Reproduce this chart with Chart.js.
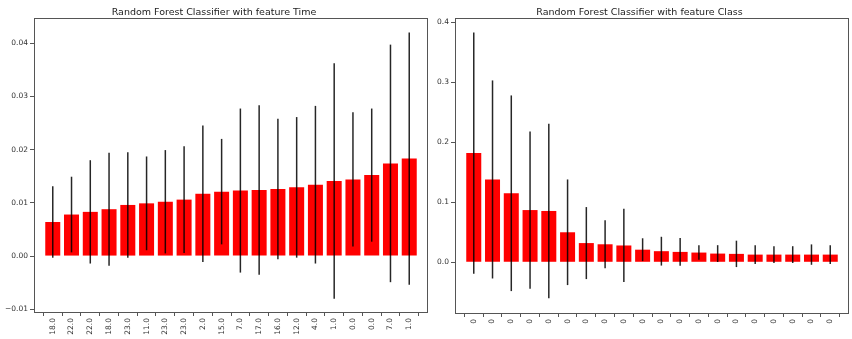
<!DOCTYPE html>
<html>
<head>
<meta charset="utf-8">
<script src="https://cdn.jsdelivr.net/npm/chart.js@4.4.1/dist/chart.umd.min.js"></script>
<style>
    body { margin: 0; background: #fff; }
    .wrap { position: absolute; top: 0; height: 339px; }
    #leftWrap { left: 0; width: 430px; }
    #rightWrap { left: 430px; width: 422px; }
</style>
</head>
<body>
<div class="wrap" id="leftWrap"><canvas id="timeChart"></canvas></div>
<div class="wrap" id="rightWrap"><canvas id="classChart"></canvas></div>
<script>
// Left plot: feature Time
const timeLabels = ['18.0', '22.0', '22.0', '18.0', '23.0', '11.0', '23.0', '23.0', '2.0', '15.0',
    '7.0', '17.0', '16.0', '12.0', '4.0', '1.0', '0.0', '0.0', '7.0', '1.0'];
const timeValues = [0.0064, 0.0078, 0.0083, 0.0088, 0.0096, 0.0099, 0.0102, 0.0106, 0.0117, 0.0121,
    0.0123, 0.0124, 0.0126, 0.0129, 0.0134, 0.0141, 0.0144, 0.0152, 0.0174, 0.0183];
const timeStd = [0.0067, 0.0071, 0.0097, 0.0106, 0.0099, 0.0088, 0.0097, 0.0100, 0.0128, 0.0099,
    0.0154, 0.0159, 0.0132, 0.0132, 0.0148, 0.0221, 0.0126, 0.0125, 0.0223, 0.0237];
const timeTicks = [-0.01, 0.00, 0.01, 0.02, 0.03, 0.04];

// Right plot: feature Class
const classLabels = ['0', '0', '0', '0', '0', '0', '0', '0', '0', '0',
    '0', '0', '0', '0', '0', '0', '0', '0', '0', '0'];
const classValues = [0.182, 0.138, 0.115, 0.087, 0.0855, 0.050, 0.032, 0.030, 0.028, 0.021,
    0.0185, 0.0173, 0.0162, 0.0145, 0.014, 0.0128, 0.0128, 0.0128, 0.0128, 0.0128];
const classStd = [0.201, 0.165, 0.163, 0.131, 0.1455, 0.088, 0.060, 0.040, 0.061, 0.019,
    0.024, 0.023, 0.012, 0.014, 0.022, 0.0157, 0.014, 0.014, 0.017, 0.0157];
const classTicks = [0.0, 0.1, 0.2, 0.3, 0.4];

const tickFont = { family: 'DejaVu Sans', size: 7.5 };
const textColor = '#333';

// draws the error bars and the four spines
const errorBarPlugin = {
    id: 'errorBars',
    afterDatasetsDraw(chart, args, opts) {
        const ctx = chart.ctx;
        const x = chart.scales.x, y = chart.scales.y;
        ctx.save();
        ctx.strokeStyle = 'rgba(0,0,0,0.85)';
        ctx.lineWidth = 1.5;
        opts.values.forEach((v, i) => {
            const px = x.getPixelForValue(i);
            ctx.beginPath();
            ctx.moveTo(px, y.getPixelForValue(v - opts.std[i]));
            ctx.lineTo(px, y.getPixelForValue(v + opts.std[i]));
            ctx.stroke();
        });
        const a = chart.chartArea;
        ctx.strokeStyle = '#555';
        ctx.lineWidth = 1;
        ctx.strokeRect(a.left + 0.5, a.top + 0.5, a.right - a.left - 1, a.bottom - a.top);
        ctx.restore();
    }
};

function makeChart(id, title, labels, values, std, ticks, yMin, yMax, digits, yWidth, xHeight, padRight) {
    const ctx = document.getElementById(id).getContext('2d');
    return new Chart(ctx, {
        type: 'bar',
        data: {
            datasets: [{
                data: values.map((v, i) => ({ x: i, y: v })),
                backgroundColor: '#ff0000',
                borderWidth: 0,
                barPercentage: 0.8,
                categoryPercentage: 1.0
            }]
        },
        options: {
            responsive: true,
            maintainAspectRatio: false,
            animation: false,
            layout: { padding: { left: 0, right: padRight, top: 0, bottom: 0 } },
            plugins: {
                legend: { display: false },
                tooltip: { enabled: false },
                title: {
                    display: true,
                    text: title,
                    color: '#222',
                    font: { family: 'DejaVu Sans', size: 9.5, weight: 'normal', lineHeight: 1.2 },
                    padding: { top: 6.5, bottom: 0.1 }
                },
                errorBars: { values: values, std: std }
            },
            scales: {
                x: {
                    type: 'linear',
                    min: -1,
                    max: 20,
                    offset: false,
                    afterBuildTicks: (scale) => {
                        scale.ticks = labels.map((l, i) => ({ value: i }));
                    },
                    afterFit: (scale) => { scale.height = xHeight; },
                    ticks: {
                        autoSkip: false,
                        maxRotation: 90,
                        minRotation: 90,
                        padding: 2,
                        color: textColor,
                        font: tickFont,
                        callback: (v) => labels[v]
                    },
                    grid: { display: true, drawOnChartArea: false, drawTicks: true, tickLength: 4, color: '#555' },
                    border: { display: false }
                },
                y: {
                    min: yMin,
                    max: yMax,
                    afterBuildTicks: (scale) => {
                        scale.ticks = ticks.map(t => ({ value: t }));
                    },
                    afterFit: (scale) => { scale.width = yWidth; },
                    ticks: {
                        padding: 2,
                        color: textColor,
                        font: tickFont,
                        callback: (v) => (v < 0 ? '\u2212' : '') + Math.abs(v).toFixed(digits)
                    },
                    grid: { display: true, drawOnChartArea: false, drawTicks: true, tickLength: 4, color: '#555' },
                    border: { display: false }
                }
            }
        },
        plugins: [errorBarPlugin]
    });
}

makeChart('timeChart', 'Random Forest Classifier with feature Time', timeLabels, timeValues, timeStd,
    timeTicks, -0.0105, 0.0447, 2, 34, 27, 2);
makeChart('classChart', 'Random Forest Classifier with feature Class', classLabels, classValues, classStd,
    classTicks, -0.0845, 0.407, 1, 25, 26, 3);
</script>
</body>
</html>
